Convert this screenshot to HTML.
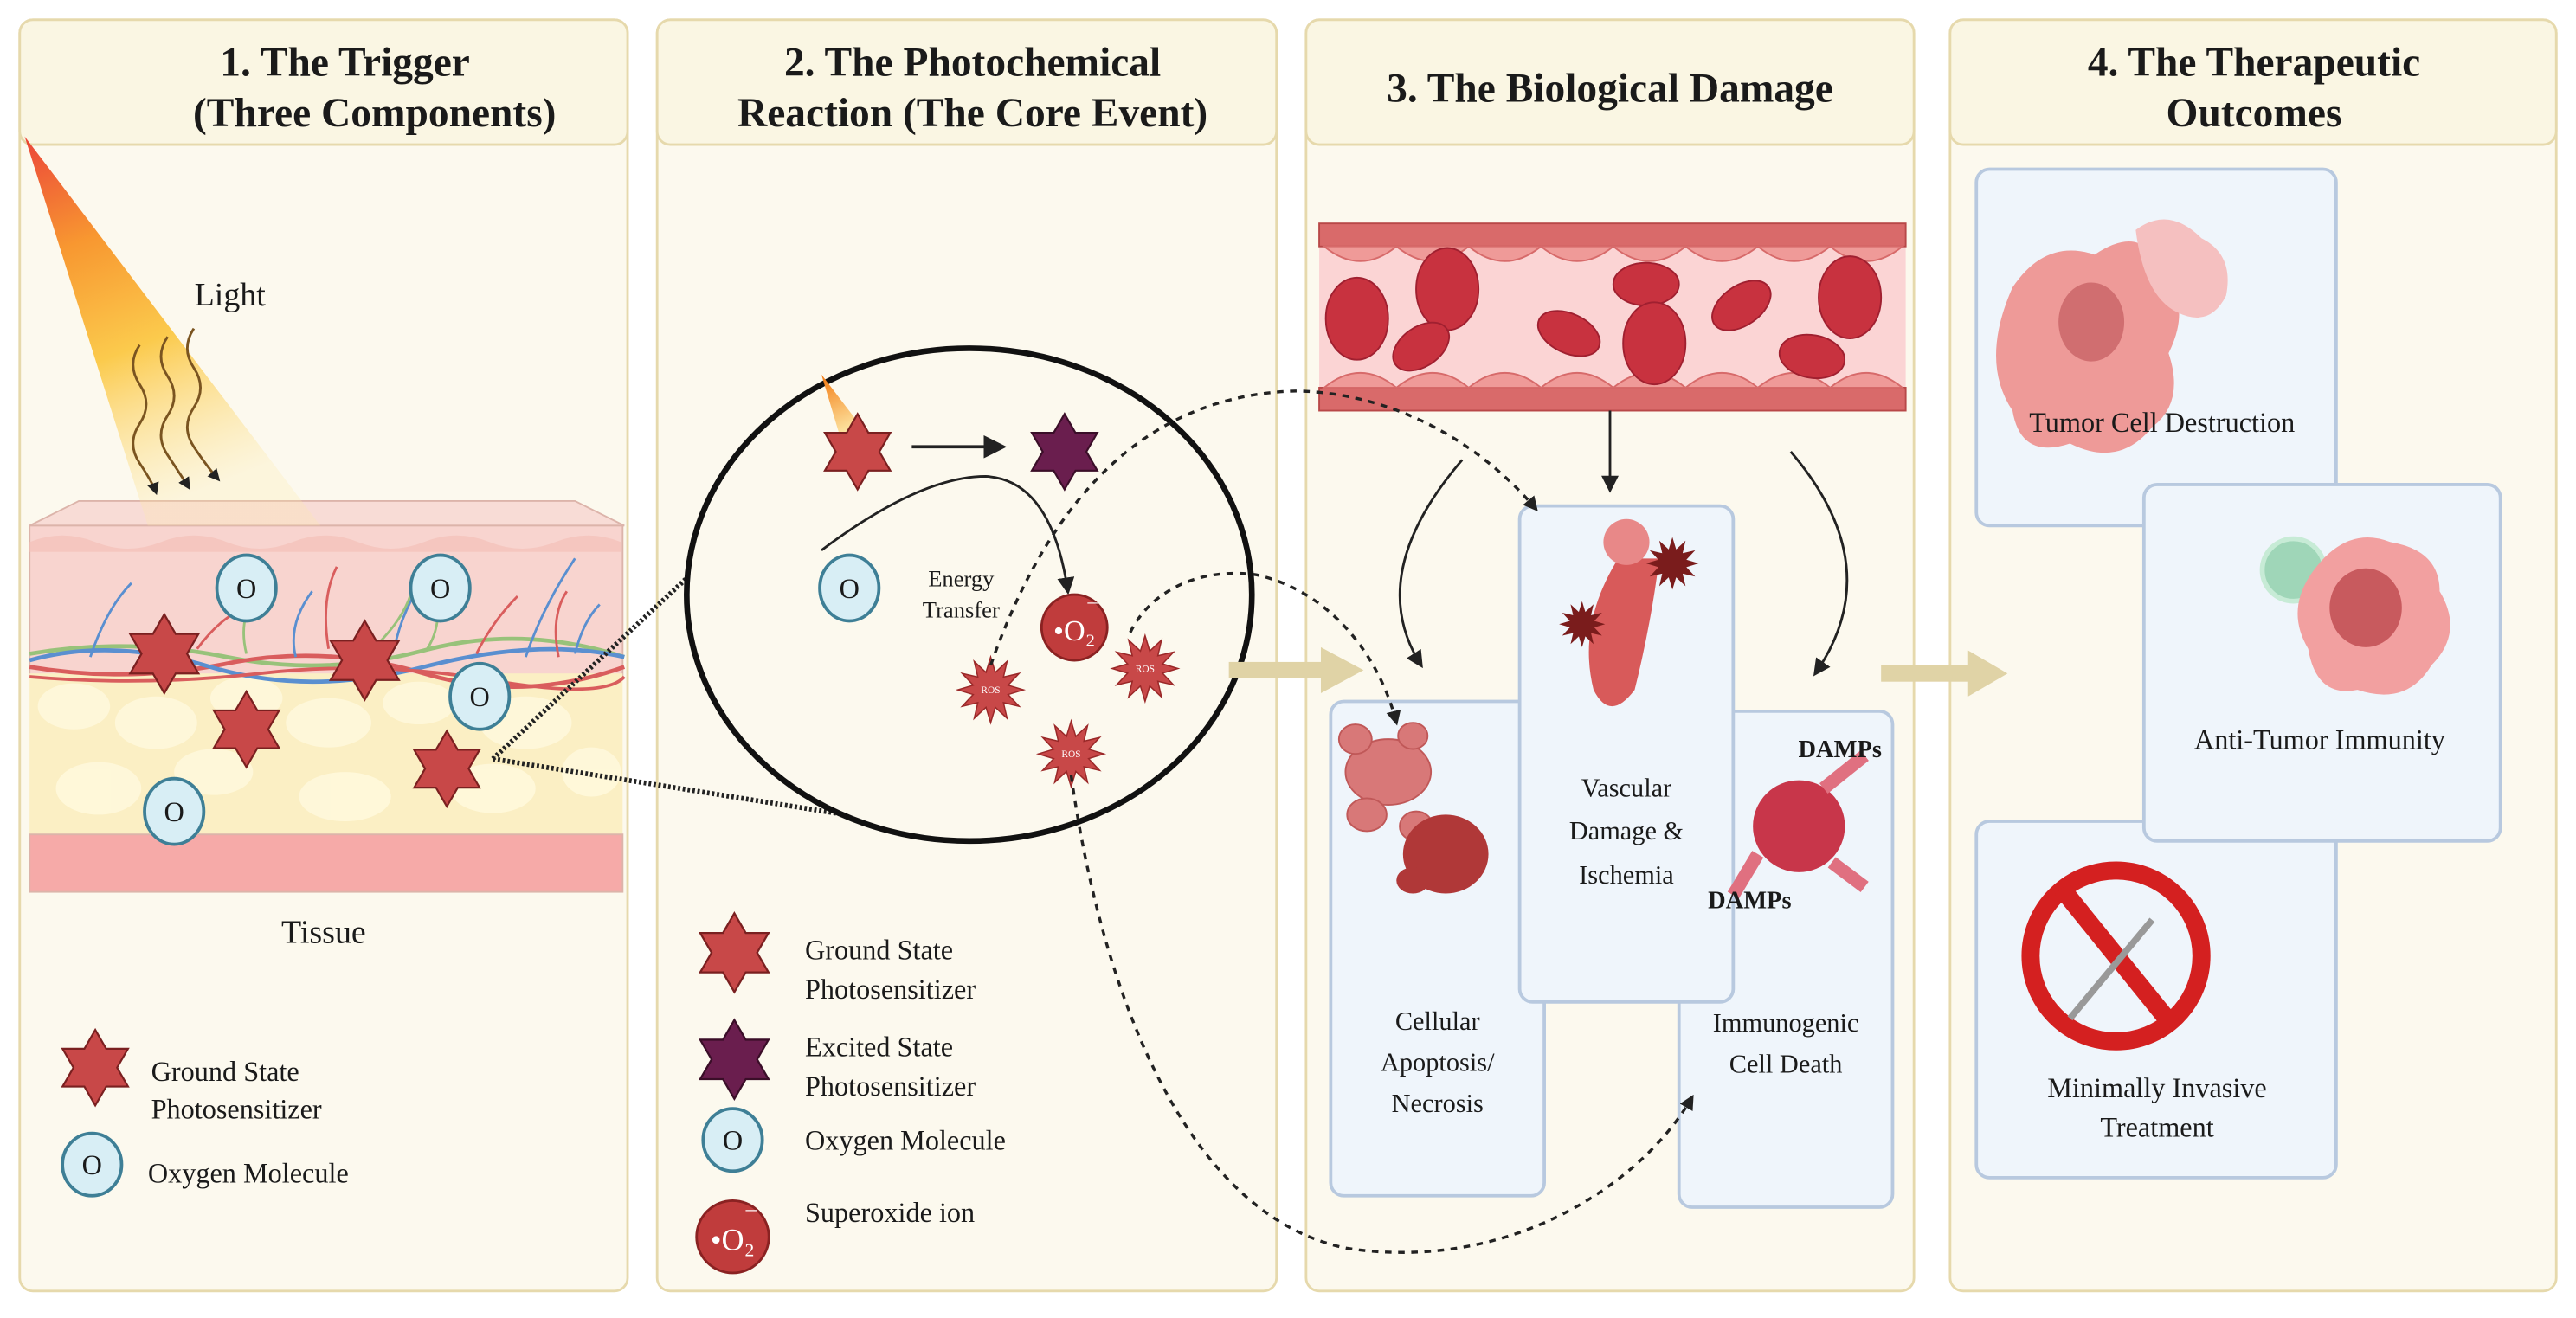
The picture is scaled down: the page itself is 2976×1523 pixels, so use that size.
<!DOCTYPE html>
<html><head><meta charset="utf-8"><style>
html,body{margin:0;padding:0;background:#fff}
svg{display:block}
text{font-family:"Liberation Serif",serif;fill:#1a1a1a}
</style></head><body>
<svg width="2976" height="1523" viewBox="0 0 1568 802.4" xmlns="http://www.w3.org/2000/svg">
<defs>
<polygon id="star" points="0,-1 0.289,-0.5 0.866,-0.5 0.577,0 0.866,0.5 0.289,0.5 0,1 -0.289,0.5 -0.866,0.5 -0.577,0 -0.866,-0.5 -0.289,-0.5"/>
<polygon id="burst" points="1,0 .531,.142 .866,.5 .389,.389 .5,.866 .142,.531 0,1 -.142,.531 -.5,.866 -.389,.389 -.866,.5 -.531,.142 -1,0 -.531,-.142 -.866,-.5 -.389,-.389 -.5,-.866 -.142,-.531 0,-1 .142,-.531 .5,-.866 .389,-.389 .866,-.5 .531,-.142"/>
<linearGradient id="beam" x1="0" y1="0" x2="0.3" y2="1">
<stop offset="0" stop-color="#e8251a"/><stop offset="0.3" stop-color="#f7860f"/><stop offset="0.6" stop-color="#fbc230"/><stop offset="1" stop-color="#fde9a8" stop-opacity="0.3"/></linearGradient>
<linearGradient id="beam2" x1="0" y1="0" x2="0.3" y2="1"><stop offset="0" stop-color="#f37a12"/><stop offset="1" stop-color="#fde9a8"/></linearGradient>
<marker id="ah" viewBox="0 0 10 10" refX="8" refY="5" markerWidth="7" markerHeight="7" orient="auto-start-reverse"><path d="M0,0 L10,5 L0,10 z" fill="#222"/></marker>
<marker id="ahs" viewBox="0 0 10 10" refX="8" refY="5" markerWidth="5" markerHeight="5" orient="auto"><path d="M0,0 L10,5 L0,10 z" fill="#222"/></marker>
</defs>

<g stroke="#e6d9ac" stroke-width="1.5">
<rect x="12" y="12" width="370" height="774" rx="8" fill="#fcf9ee"/>
<rect x="400" y="12" width="377" height="774" rx="8" fill="#fcf9ee"/>
<rect x="795" y="12" width="370" height="774" rx="8" fill="#fcf9ee"/>
<rect x="1187" y="12" width="369" height="774" rx="8" fill="#fcf9ee"/>
<rect x="12" y="12" width="370" height="76" rx="8" fill="#faf6e3"/>
<rect x="400" y="12" width="377" height="76" rx="8" fill="#faf6e3"/>
<rect x="795" y="12" width="370" height="76" rx="8" fill="#faf6e3"/>
<rect x="1187" y="12" width="369" height="76" rx="8" fill="#faf6e3"/>
</g>
<g font-size="25" font-weight="bold" text-anchor="middle">
<text x="210" y="46">1.  The Trigger</text>
<text x="228" y="77">(Three Components)</text>
<text x="592" y="46">2. The Photochemical</text>
<text x="592" y="77">Reaction (The Core Event)</text>
<text x="980" y="62">3. The Biological Damage</text>
<text x="1372" y="46">4. The Therapeutic</text>
<text x="1372" y="77">Outcomes</text>
</g>

<polygon points="18,320 48,305 350,305 380,320" fill="#f8dcd6" stroke="#dcb4aa"/>
<rect x="18" y="320" width="361" height="92" fill="#f8d4cf" stroke="#dcb4aa"/>
<path d="M18,330 q20,-8 40,0 t40,0 t40,0 t40,0 t40,0 t40,0 t40,0 t40,0 t40,0 v6 h-360z" fill="#f3c0b8" opacity="0.7"/>
<rect x="18" y="410" width="361" height="100" fill="#fbefc4"/>
<g fill="#fff8dc" opacity="0.9">
<ellipse cx="45" cy="430" rx="22" ry="14"/><ellipse cx="95" cy="440" rx="25" ry="16"/><ellipse cx="150" cy="425" rx="22" ry="13"/><ellipse cx="200" cy="440" rx="26" ry="15"/><ellipse cx="255" cy="428" rx="22" ry="13"/><ellipse cx="320" cy="440" rx="28" ry="16"/><ellipse cx="60" cy="480" rx="26" ry="16"/><ellipse cx="130" cy="470" rx="24" ry="14"/><ellipse cx="210" cy="485" rx="28" ry="15"/><ellipse cx="300" cy="480" rx="26" ry="15"/><ellipse cx="360" cy="470" rx="18" ry="15"/>
</g>
<rect x="18" y="508" width="361" height="35" fill="#f6aaa8" stroke="#dcb4aa"/>
<g fill="none" stroke-width="2.5">
<path d="M18,398 q60,-10 120,2 t120,-4 t122,4" stroke="#98c27a"/>
<path d="M18,406 q60,10 120,-2 t120,6 t122,-4" stroke="#d95d5d"/>
<path d="M18,402 q50,-14 110,4 t130,0 t122,-6" stroke="#5a8fd0"/>
<path d="M18,412 q70,6 140,-2 t140,4 t82,-2" stroke="#d95d5d" stroke-width="2"/>
<path d="M55,400 q10,-30 25,-45 M180,400 q-5,-20 10,-40 M240,395 q5,-25 20,-45 M320,400 q10,-30 30,-60 M350,398 q5,-20 15,-30" stroke="#5a8fd0" stroke-width="1.5"/>
<path d="M120,395 q15,-20 30,-25 M200,395 q-5,-30 5,-50 M290,398 q10,-20 25,-35 M340,400 q-5,-25 5,-40" stroke="#d95d5d" stroke-width="1.5"/>
<path d="M150,398 q-5,-20 5,-35 M260,395 q10,-15 5,-40 M230,392 q15,-15 20,-30" stroke="#98c27a" stroke-width="1.5"/>
</g>
<polygon points="15,83 90,320 195,320" fill="url(#beam)" opacity="0.85"/>
<g fill="none" stroke="#7a5420" stroke-width="1.5">
<path d="M85,210 q-8,12 0,24 t0,24 t0,24 t10,18" marker-end="url(#ahs)"/>
<path d="M102,205 q-8,12 0,24 t0,24 t0,24 t13,20" marker-end="url(#ahs)"/>
<path d="M118,200 q-8,12 0,24 t0,24 t0,24 t15,20" marker-end="url(#ahs)"/>
</g>
<text x="140" y="186" font-size="20" text-anchor="middle">Light</text>
<g fill="#d8eef5" stroke="#3e7f96" stroke-width="2">
<ellipse cx="150" cy="358" rx="18" ry="20"/><ellipse cx="268" cy="358" rx="18" ry="20"/><ellipse cx="292" cy="424" rx="18" ry="20"/><ellipse cx="106" cy="494" rx="18" ry="20"/>
</g>
<g font-family="Liberation Sans,sans-serif" font-size="17" text-anchor="middle">
<text x="150" y="364">O</text><text x="268" y="364">O</text><text x="292" y="430">O</text><text x="106" y="500">O</text>
</g>
<g fill="#c84848" stroke="#7a2020" stroke-width="0.05">
<use href="#star" transform="translate(100,398) scale(24)"/>
<use href="#star" transform="translate(222,402) scale(24)"/>
<use href="#star" transform="translate(150,444) scale(23)"/>
<use href="#star" transform="translate(272,468) scale(23)"/>
</g>
<text x="197" y="574" font-size="20" text-anchor="middle">Tissue</text>
<use href="#star" transform="translate(58,650) scale(23)" fill="#c84848" stroke="#7a2020" stroke-width="0.05"/>
<text x="92" y="658" font-size="17">Ground State</text>
<text x="92" y="681" font-size="17">Photosensitizer</text>
<ellipse cx="56" cy="709" rx="18" ry="19" fill="#d8eef5" stroke="#3e7f96" stroke-width="2"/>
<text x="56" y="715" font-size="17" text-anchor="middle" font-family="Liberation Sans,sans-serif">O</text>
<text x="90" y="720" font-size="17">Oxygen Molecule</text>

<g stroke="#222" stroke-width="3" stroke-dasharray="1.5 1.5" fill="none">
<line x1="300" y1="462" x2="418" y2="352"/>
<line x1="300" y1="462" x2="540" y2="500"/>
</g>

<ellipse cx="590" cy="362" rx="172" ry="150" fill="#fcf9ee" stroke="#111" stroke-width="3.5"/>
<polygon points="500,228 512,268 526,262" fill="url(#beam2)"/>
<use href="#star" transform="translate(522,275) scale(23)" fill="#c84848" stroke="#7a2020" stroke-width="0.05"/>
<line x1="555" y1="272" x2="610" y2="272" stroke="#222" stroke-width="2" marker-end="url(#ah)"/>
<use href="#star" transform="translate(648,275) scale(23)" fill="#6a1e4e" stroke="#3a0e28" stroke-width="0.05"/>
<path d="M500,335 Q560,290 600,290 Q640,292 650,360" fill="none" stroke="#222" stroke-width="1.5" marker-end="url(#ah)"/>
<text x="585" y="357" font-size="14" text-anchor="middle">Energy</text>
<text x="585" y="376" font-size="14" text-anchor="middle">Transfer</text>
<ellipse cx="517" cy="358" rx="18" ry="20" fill="#d8eef5" stroke="#3e7f96" stroke-width="2"/>
<text x="517" y="364" font-size="17" text-anchor="middle" font-family="Liberation Sans,sans-serif">O</text>
<circle cx="654" cy="382" r="20" fill="#c03c3c" stroke="#8a2222" stroke-width="1.5"/>
<text x="654" y="390" font-size="18" style="fill:#fff" text-anchor="middle" font-family="Liberation Sans,sans-serif">•O₂</text>
<text x="662" y="370" font-size="12" style="fill:#fff" font-family="Liberation Sans,sans-serif">–</text>
<g fill="#c84848" stroke="#9a2828" stroke-width="0.04">
<use href="#burst" transform="translate(603,420) scale(20)"/>
<use href="#burst" transform="translate(697,407) scale(20)"/>
<use href="#burst" transform="translate(652,459) scale(20)"/>
</g>
<g font-size="6" text-anchor="middle" font-family="Liberation Sans,sans-serif">
<text x="603" y="422" style="fill:#fff">ROS</text><text x="697" y="409" style="fill:#fff">ROS</text><text x="652" y="461" style="fill:#fff">ROS</text>
</g>
<use href="#star" transform="translate(447,580) scale(24)" fill="#c84848" stroke="#7a2020" stroke-width="0.05"/>
<text x="490" y="584" font-size="17">Ground State</text>
<text x="490" y="608" font-size="17">Photosensitizer</text>
<use href="#star" transform="translate(447,645) scale(24)" fill="#6a1e4e" stroke="#3a0e28" stroke-width="0.05"/>
<text x="490" y="643" font-size="17">Excited State</text>
<text x="490" y="667" font-size="17">Photosensitizer</text>
<ellipse cx="446" cy="694" rx="18" ry="19" fill="#d8eef5" stroke="#3e7f96" stroke-width="2"/>
<text x="446" y="700" font-size="17" text-anchor="middle" font-family="Liberation Sans,sans-serif">O</text>
<text x="490" y="700" font-size="17">Oxygen Molecule</text>
<circle cx="446" cy="753" r="22" fill="#c03c3c" stroke="#8a2222" stroke-width="1.5"/>
<text x="446" y="761" font-size="19" style="fill:#fff" text-anchor="middle" font-family="Liberation Sans,sans-serif">•O₂</text>
<text x="454" y="740" font-size="13" style="fill:#fff" font-family="Liberation Sans,sans-serif">–</text>
<text x="490" y="744" font-size="17">Superoxide ion</text>

<g fill="#e0d3a6">
<rect x="748" y="403" width="58" height="10"/><polygon points="804,394 830,408 804,422"/>
<rect x="1145" y="405" width="55" height="10"/><polygon points="1198,396 1222,410 1198,424"/>
</g>

<rect x="803" y="136" width="357" height="114" fill="#fbd4d4"/>
<rect x="803" y="136" width="357" height="14" fill="#d96a6a" stroke="#b84848"/>
<rect x="803" y="236" width="357" height="14" fill="#d96a6a" stroke="#b84848"/>
<g fill="#ef9a98" stroke="#d76a6a" stroke-width="1">
<path d="M806,150 q22,18 44,0 q22,18 44,0 q22,18 44,0 q22,18 44,0 q22,18 44,0 q22,18 44,0 q22,18 44,0 q22,18 44,0 z"/>
<path d="M806,236 q22,-18 44,0 q22,-18 44,0 q22,-18 44,0 q22,-18 44,0 q22,-18 44,0 q22,-18 44,0 q22,-18 44,0 q22,-18 44,0 z"/>
</g>
<g fill="#c8323f" stroke="#a02030" stroke-width="1">
<ellipse cx="826" cy="194" rx="19" ry="25"/><ellipse cx="881" cy="176" rx="19" ry="25"/><ellipse cx="865" cy="211" rx="19" ry="12" transform="rotate(-35 865 211)"/>
<ellipse cx="955" cy="203" rx="20" ry="12" transform="rotate(25 955 203)"/><ellipse cx="1002" cy="173" rx="20" ry="13"/>
<ellipse cx="1007" cy="209" rx="19" ry="25"/><ellipse cx="1060" cy="186" rx="20" ry="12" transform="rotate(-35 1060 186)"/>
<ellipse cx="1126" cy="181" rx="19" ry="25"/><ellipse cx="1103" cy="217" rx="20" ry="13" transform="rotate(10 1103 217)"/>
</g>
<line x1="980" y1="250" x2="980" y2="298" stroke="#222" stroke-width="1.5" marker-end="url(#ah)"/>
<path d="M890,280 Q830,350 865,405" fill="none" stroke="#222" stroke-width="1.5" marker-end="url(#ah)"/>
<path d="M1090,275 Q1150,345 1105,410" fill="none" stroke="#222" stroke-width="1.5" marker-end="url(#ah)"/>

<g fill="#eff5fb" stroke="#b8c9df" stroke-width="2">
<rect x="810" y="427" width="130" height="301" rx="8"/>
<rect x="1022" y="433" width="130" height="302" rx="8"/>
<rect x="925" y="308" width="130" height="302" rx="8"/>
</g>
<g fill="#d87878" stroke="#c05858" stroke-width="1">
<ellipse cx="845" cy="470" rx="26" ry="20"/><ellipse cx="825" cy="450" rx="10" ry="9"/><ellipse cx="860" cy="448" rx="9" ry="8"/><ellipse cx="832" cy="496" rx="12" ry="10"/><ellipse cx="862" cy="503" rx="10" ry="9"/>
</g>
<g fill="#b03838"><ellipse cx="880" cy="520" rx="26" ry="24"/><ellipse cx="860" cy="536" rx="10" ry="8"/></g>
<path d="M985,340 q-25,40 -15,80 q10,20 25,0 q10,-40 15,-80 z" fill="#d85a5a"/>
<circle cx="990" cy="330" r="14" fill="#e88888"/>
<use href="#burst" transform="translate(1018,343) scale(16)" fill="#7a1c1c"/>
<use href="#burst" transform="translate(963,380) scale(14)" fill="#7a1c1c"/>
<circle cx="1095" cy="503" r="28" fill="#c8364a"/>
<path d="M1070,520 l-15,25 M1110,480 l25,-20 M1115,525 l20,15" stroke="#e07080" stroke-width="8"/>
<g font-size="16" text-anchor="middle">
<text x="990" y="485">Vascular</text><text x="990" y="511">Damage &amp;</text><text x="990" y="538">Ischemia</text>
<text x="875" y="627">Cellular</text><text x="875" y="652">Apoptosis/</text><text x="875" y="677">Necrosis</text>
<text x="1087" y="628">Immunogenic</text><text x="1087" y="653">Cell Death</text>
</g>
<g font-size="15" font-weight="bold" text-anchor="middle">
<text x="1120" y="461">DAMPs</text><text x="1065" y="553">DAMPs</text>
</g>

<g fill="none" stroke="#222" stroke-width="1.8" stroke-dasharray="4 4">
<path d="M603,405 C640,300 700,240 790,238 C860,240 910,280 935,310" marker-end="url(#ahs)"/>
<path d="M688,385 C700,360 730,345 765,350 C810,360 840,400 850,440" marker-end="url(#ahs)"/>
<path d="M652,472 C670,600 720,740 820,760 C920,775 1000,720 1030,668" marker-end="url(#ahs)"/>
</g>

<g fill="#eff5fb" stroke="#b8c9df" stroke-width="2">
<rect x="1203" y="103" width="219" height="217" rx="8"/>
<rect x="1203" y="500" width="219" height="217" rx="8"/>
<rect x="1305" y="295" width="217" height="217" rx="8"/>
</g>
<path d="M1225,175 q20,-30 50,-20 q30,-20 40,10 q20,20 5,50 q10,30 -10,45 q-20,25 -50,10 q-30,10 -35,-20 q-20,-30 0,-75z" fill="#ee9a98"/>
<ellipse cx="1273" cy="196" rx="20" ry="24" fill="#d06e70"/>
<path d="M1300,140 q20,-15 40,5 q20,10 15,35 q-10,20 -30,10 q-20,-10 -25,-50z" fill="#f5c0c0"/>
<circle cx="1396" cy="347" r="19" fill="#9fd6b8" stroke="#c7ebd6" stroke-width="3"/>
<path d="M1410,345 q20,-25 45,-15 q30,5 30,30 q15,25 -5,45 q-15,25 -45,15 q-25,5 -30,-25 q-15,-25 5,-50z" fill="#f2a0a0"/>
<ellipse cx="1440" cy="370" rx="22" ry="24" fill="#c85a5e"/>
<circle cx="1288" cy="582" r="52" fill="none" stroke="#d42020" stroke-width="11"/>
<line x1="1255" y1="541" x2="1322" y2="624" stroke="#d42020" stroke-width="11"/>
<line x1="1260" y1="620" x2="1310" y2="560" stroke="#999" stroke-width="4"/>
<g font-size="17" text-anchor="middle">
<text x="1316" y="263">Tumor Cell Destruction</text>
<text x="1412" y="456">Anti-Tumor Immunity</text>
<text x="1313" y="668">Minimally Invasive</text>
<text x="1313" y="692">Treatment</text>
</g>
</svg>
</body></html>
